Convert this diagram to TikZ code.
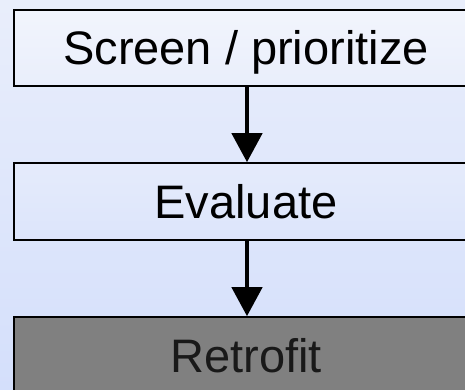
\documentclass[tikz,border=0pt]{standalone}
\usepackage{fontspec}
\setmainfont{Liberation Sans}
\usetikzlibrary{arrows.meta}
\definecolor{bgtop}{RGB}{233,238,251}
\definecolor{bgbot}{RGB}{212,223,251}
\definecolor{boxgray}{RGB}{128,128,128}
\tikzset{
  stepbox/.style={draw=black, line width=1.6pt, minimum width=464pt,
    inner sep=0pt, text height=34pt, text depth=0pt,
    font=\fontsize{47}{50}\selectfont},
  flowarrow/.style={line width=4.5pt, -{Triangle[width=30pt,length=29pt]}}
}
\begin{document}
\begin{tikzpicture}[x=1pt,y=-1pt]
  \useasboundingbox (0,0) rectangle (465,390);
  \clip (0,0) rectangle (465,390);
  \shade[top color=bgtop, bottom color=bgbot] (0,0) rectangle (465,390);
  % process steps
  \node[stepbox, minimum height=76pt, top color=bgtop!60!white, bottom color=bgtop] (screen) at (246,48) {Screen / prioritize};
  \node[stepbox, minimum height=77pt, top color=bgtop!80!bgbot, bottom color=bgtop!40!bgbot] (eval) at (246,201.5) {Evaluate};
  \node[stepbox, minimum height=77pt, fill=boxgray, text=black!90] (retro) at (246,355.5) {Retrofit};
  % connectors
  \draw[flowarrow] (screen.south -| 247,0) -- (eval.north -| 247,0);
  \draw[flowarrow] (eval.south -| 247,0) -- (retro.north -| 247,0);
\end{tikzpicture}
\end{document}
